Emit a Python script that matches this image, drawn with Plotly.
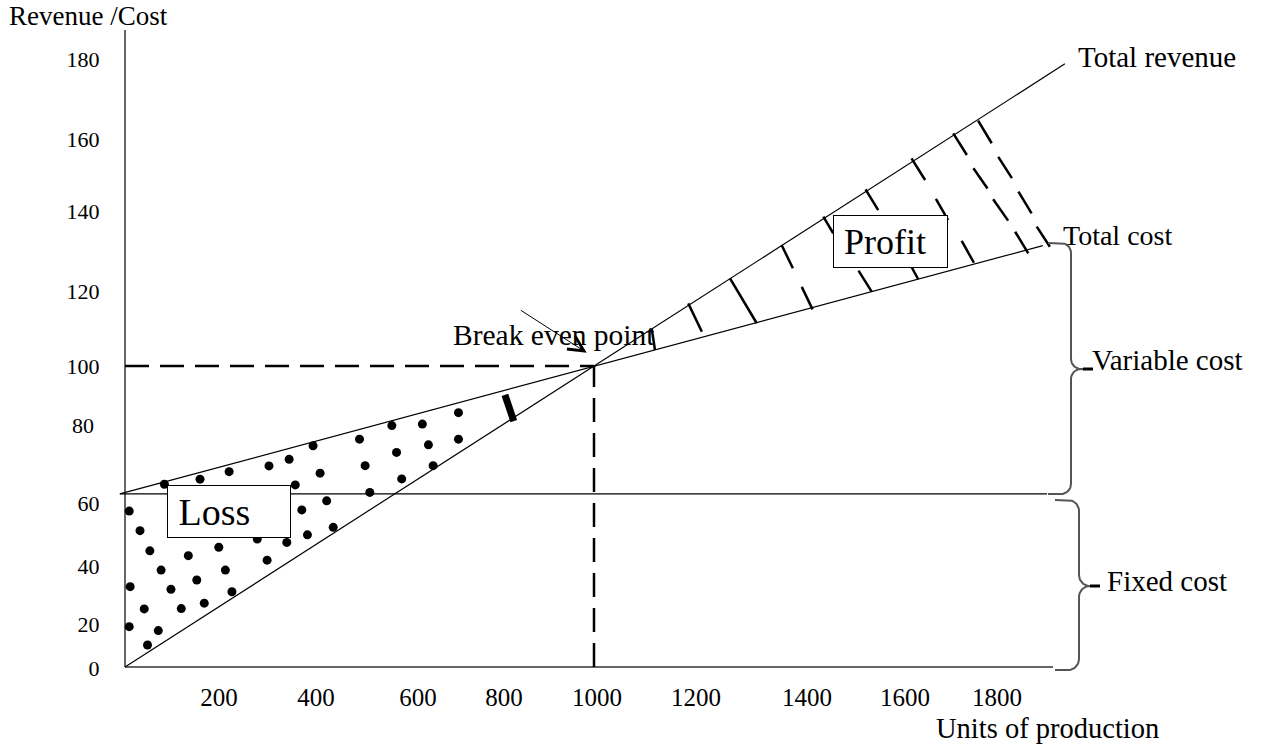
import numpy as np
import plotly.graph_objects as go

# ---------------- data ----------------
revenue_units = [0, 1000, 2004]
total_revenue = [0, 100, 200.4]

cost_units = [-11, 1000, 1957]
total_cost = [57.5, 100, 140.0]

fixed_units = [-11, 1966]
fixed_cost = [57.5, 57.5]

break_even_units = 1000
break_even_value = 100

x_tick_labels = [200, 400, 600, 800, 1000, 1200, 1400, 1600, 1800]
y_tick_labels = [0, 20, 40, 60, 80, 100, 120, 140, 160, 180]

# dots shading the loss area
loss_dot_units = [84, 160, 222, 307, 350, 401, 500, 569, 634, 711,
                  363, 416, 512, 579, 647, 711,
                  522, 590, 657,
                  9, 32, 377, 430,
                  53, 135, 200, 282, 345, 389, 444, 303,
                  77, 153, 214,
                  11, 98, 228,
                  41, 120, 169,
                  9, 71, 48]
loss_dot_values = [60.7, 62.4, 64.9, 66.8, 69.0, 73.5, 75.7, 80.2, 80.7, 84.5,
                   60.5, 64.4, 66.9, 71.3, 73.8, 75.7,
                   58.0, 62.5, 66.9,
                   51.8, 45.3, 52.2, 55.2,
                   38.6, 37.0, 39.8, 42.5, 41.4, 43.9, 46.4, 35.5,
                   32.2, 28.9, 32.2,
                   26.7, 25.8, 25.0,
                   19.3, 19.4, 21.2,
                   13.4, 12.1, 7.3]

# hatch strokes in the profit area (start / end)
hatch_u0 = [1123, 1201, 1290, 1400, 1443, 1489, 1564, 1579, 1677, 1729,
            1663, 1784, 1766, 1809, 1851, 1898, 1819, 1862, 1905, 1944]
hatch_v0 = [112.5, 120.8, 129.1, 140.2, 126.3, 149.6, 131.7, 158.7, 169.0, 155.5,
            136.9, 141.6, 177.3, 165.7, 155.4, 144.6, 181.5, 169.5, 157.9, 146.3]
hatch_u1 = [1130, 1230, 1347, 1424, 1466, 1510, 1592, 1606, 1706, 1755,
            1691, 1810, 1795, 1839, 1883, 1926, 1848, 1891, 1933, 1972]
hatch_v1 = [105.3, 111.4, 114.2, 132.5, 118.8, 144.1, 124.7, 151.8, 161.8, 148.5,
            128.9, 134.3, 170.1, 159.0, 148.3, 137.4, 174.0, 162.4, 150.7, 139.6]

# thick stroke on the loss side
loss_mark_units = [810, 829]
loss_mark_values = [90.4, 81.7]

# ---------------- geometry of the drawing ----------------
W, H = 1263, 747
X0, KX = 125, 0.469     # pixel of 0 units, pixels per unit
Y0, KY = 667, 3.01      # pixel of 0 value, pixels per value unit


def ux(px):
    return (px - X0) / KX


def uy(py):
    return (Y0 - py) / KY


FONT = "Liberation Serif"
INK = "black"

x_tick_px = [219, 316, 418, 504, 597, 696, 807, 905, 997]
y_tick_px = [668, 624, 566, 503, 425, 366, 291, 211, 139, 59]

fig = go.Figure()


def line(xs, ys, width=1, color=INK, dash=None):
    fig.add_trace(go.Scatter(x=xs, y=ys, mode="lines",
                             line=dict(color=color, width=width, dash=dash),
                             hoverinfo="skip", showlegend=False))


# axes drawn as lines
line([0, 0], [0, uy(30)], width=1.5, color="#333")
line([0, ux(1053)], [0, 0], width=1.5, color="#333")

# cost / revenue lines
line(fixed_units, fixed_cost, width=1.2)
line(cost_units, total_cost, width=1.2)
line(revenue_units, total_revenue, width=1.2)

# break-even dashed guides
line([0, break_even_units], [break_even_value, break_even_value], width=2.5, dash="24px,11px")
line([break_even_units, break_even_units], [0, break_even_value], width=2.5, dash="24px,11px")

# loss dots
fig.add_trace(go.Scatter(x=loss_dot_units, y=loss_dot_values, mode="markers",
                         marker=dict(color=INK, size=9), hoverinfo="skip", showlegend=False))

# profit hatch
hx, hy = [], []
for a, b, c, d in zip(hatch_u0, hatch_u1, hatch_v0, hatch_v1):
    hx += [a, b, None]
    hy += [c, d, None]
line(hx, hy, width=2.5)

# thick loss mark
line(loss_mark_units, loss_mark_values, width=7)


# braces
def brace(x_end, x_spine, x_tip, y_top, y_mid, y_bot, r):
    xs, ys = [x_end], [y_top]

    def arc(cx, cy, a0, a1):
        t = np.radians(np.linspace(a0, a1, 14))
        xs.extend(cx + r * np.cos(t))
        ys.extend(cy + r * np.sin(t))

    arc(x_spine - r, y_top + r, -90, 0)
    arc(x_spine + r, y_mid - r, 180, 90)
    xs.append(x_tip); ys.append(y_mid)
    arc(x_spine + r, y_mid + r, -90, -180)
    arc(x_spine - r, y_bot - r, 0, 90)
    xs.append(x_end); ys.append(y_bot)
    line([ux(v) for v in xs], [uy(v) for v in ys], width=2, color="#555")


brace(1048, 1071, 1085, 243, 369, 494, 10)
brace(1055, 1079, 1092, 500, 586, 670, 11)
line([ux(1083), ux(1093)], [uy(369), uy(369)], width=3)
line([ux(1090), ux(1100)], [uy(586), uy(586)], width=3)

# ---------------- text ----------------
annotations = []


def label(text, left_px, baseline_px, size):
    annotations.append(dict(
        x=ux(left_px - 2), y=uy(baseline_px - 0.3375 * size), xref="x", yref="y",
        text=text, showarrow=False, xanchor="left", yanchor="middle",
        font=dict(family=FONT, size=size, color=INK)))


label("Revenue /Cost", 9, 25, 27)
label("Total revenue", 1078, 67, 29)
label("Total cost", 1063, 245, 28)
label("Variable cost", 1092, 370, 29)
label("Fixed cost", 1107, 591, 29)
label("Units of production", 936, 738, 28.5)
label("Break even point", 453, 345, 29.5)


def boxed(text, left, top, right, bottom, size):
    annotations.append(dict(
        x=ux(left), y=uy((top + bottom) / 2), xref="x", yref="y",
        text="\u00a0" + text, showarrow=False, xanchor="left", yanchor="middle",
        width=right - left - 4, height=bottom - top - 4, align="left", valign="middle",
        bgcolor="white", bordercolor=INK, borderwidth=1, borderpad=1,
        font=dict(family=FONT, size=size, color=INK)))


boxed("Loss", 166.7, 485, 290.7, 538.3, 38)
boxed("Profit", 833.3, 215, 948.3, 268.3, 36)

# arrow to break-even point
annotations.append(dict(
    x=ux(586.7), y=uy(352.7), ax=ux(519.3), ay=uy(309.3),
    xref="x", yref="y", axref="x", ayref="y", text="", showarrow=True,
    arrowhead=5, arrowsize=3, arrowwidth=1, arrowcolor=INK))

y_ticktext = [str(v) + ("\u00a0" if v == 80 else "") for v in y_tick_labels]

fig.update_layout(
    width=W, height=H, autosize=False,
    margin=dict(l=0, r=0, t=0, b=0, pad=0),
    paper_bgcolor="white", plot_bgcolor="white",
    showlegend=False, hovermode=False,
    annotations=annotations,
    xaxis=dict(range=[ux(0), ux(W)], anchor="free", position=(H - Y0) / H,
               showline=False, showgrid=False, zeroline=False,
               ticks="outside", ticklen=8, tickcolor="rgba(0,0,0,0)",
               tickvals=[ux(p) for p in x_tick_px], ticktext=[str(v) for v in x_tick_labels],
               tickfont=dict(family=FONT, size=25, color=INK), automargin=False),
    yaxis=dict(range=[uy(H), uy(0)], anchor="free", position=X0 / W,
               showline=False, showgrid=False, zeroline=False,
               ticks="outside", ticklen=21, tickcolor="rgba(0,0,0,0)",
               tickvals=[uy(p) for p in y_tick_px], ticktext=y_ticktext,
               tickfont=dict(family=FONT, size=22, color=INK), automargin=False),
)

fig.write_html("out.html", config={"displayModeBar": False},
               post_script="document.body.style.margin='0';document.body.style.overflow='hidden';")
